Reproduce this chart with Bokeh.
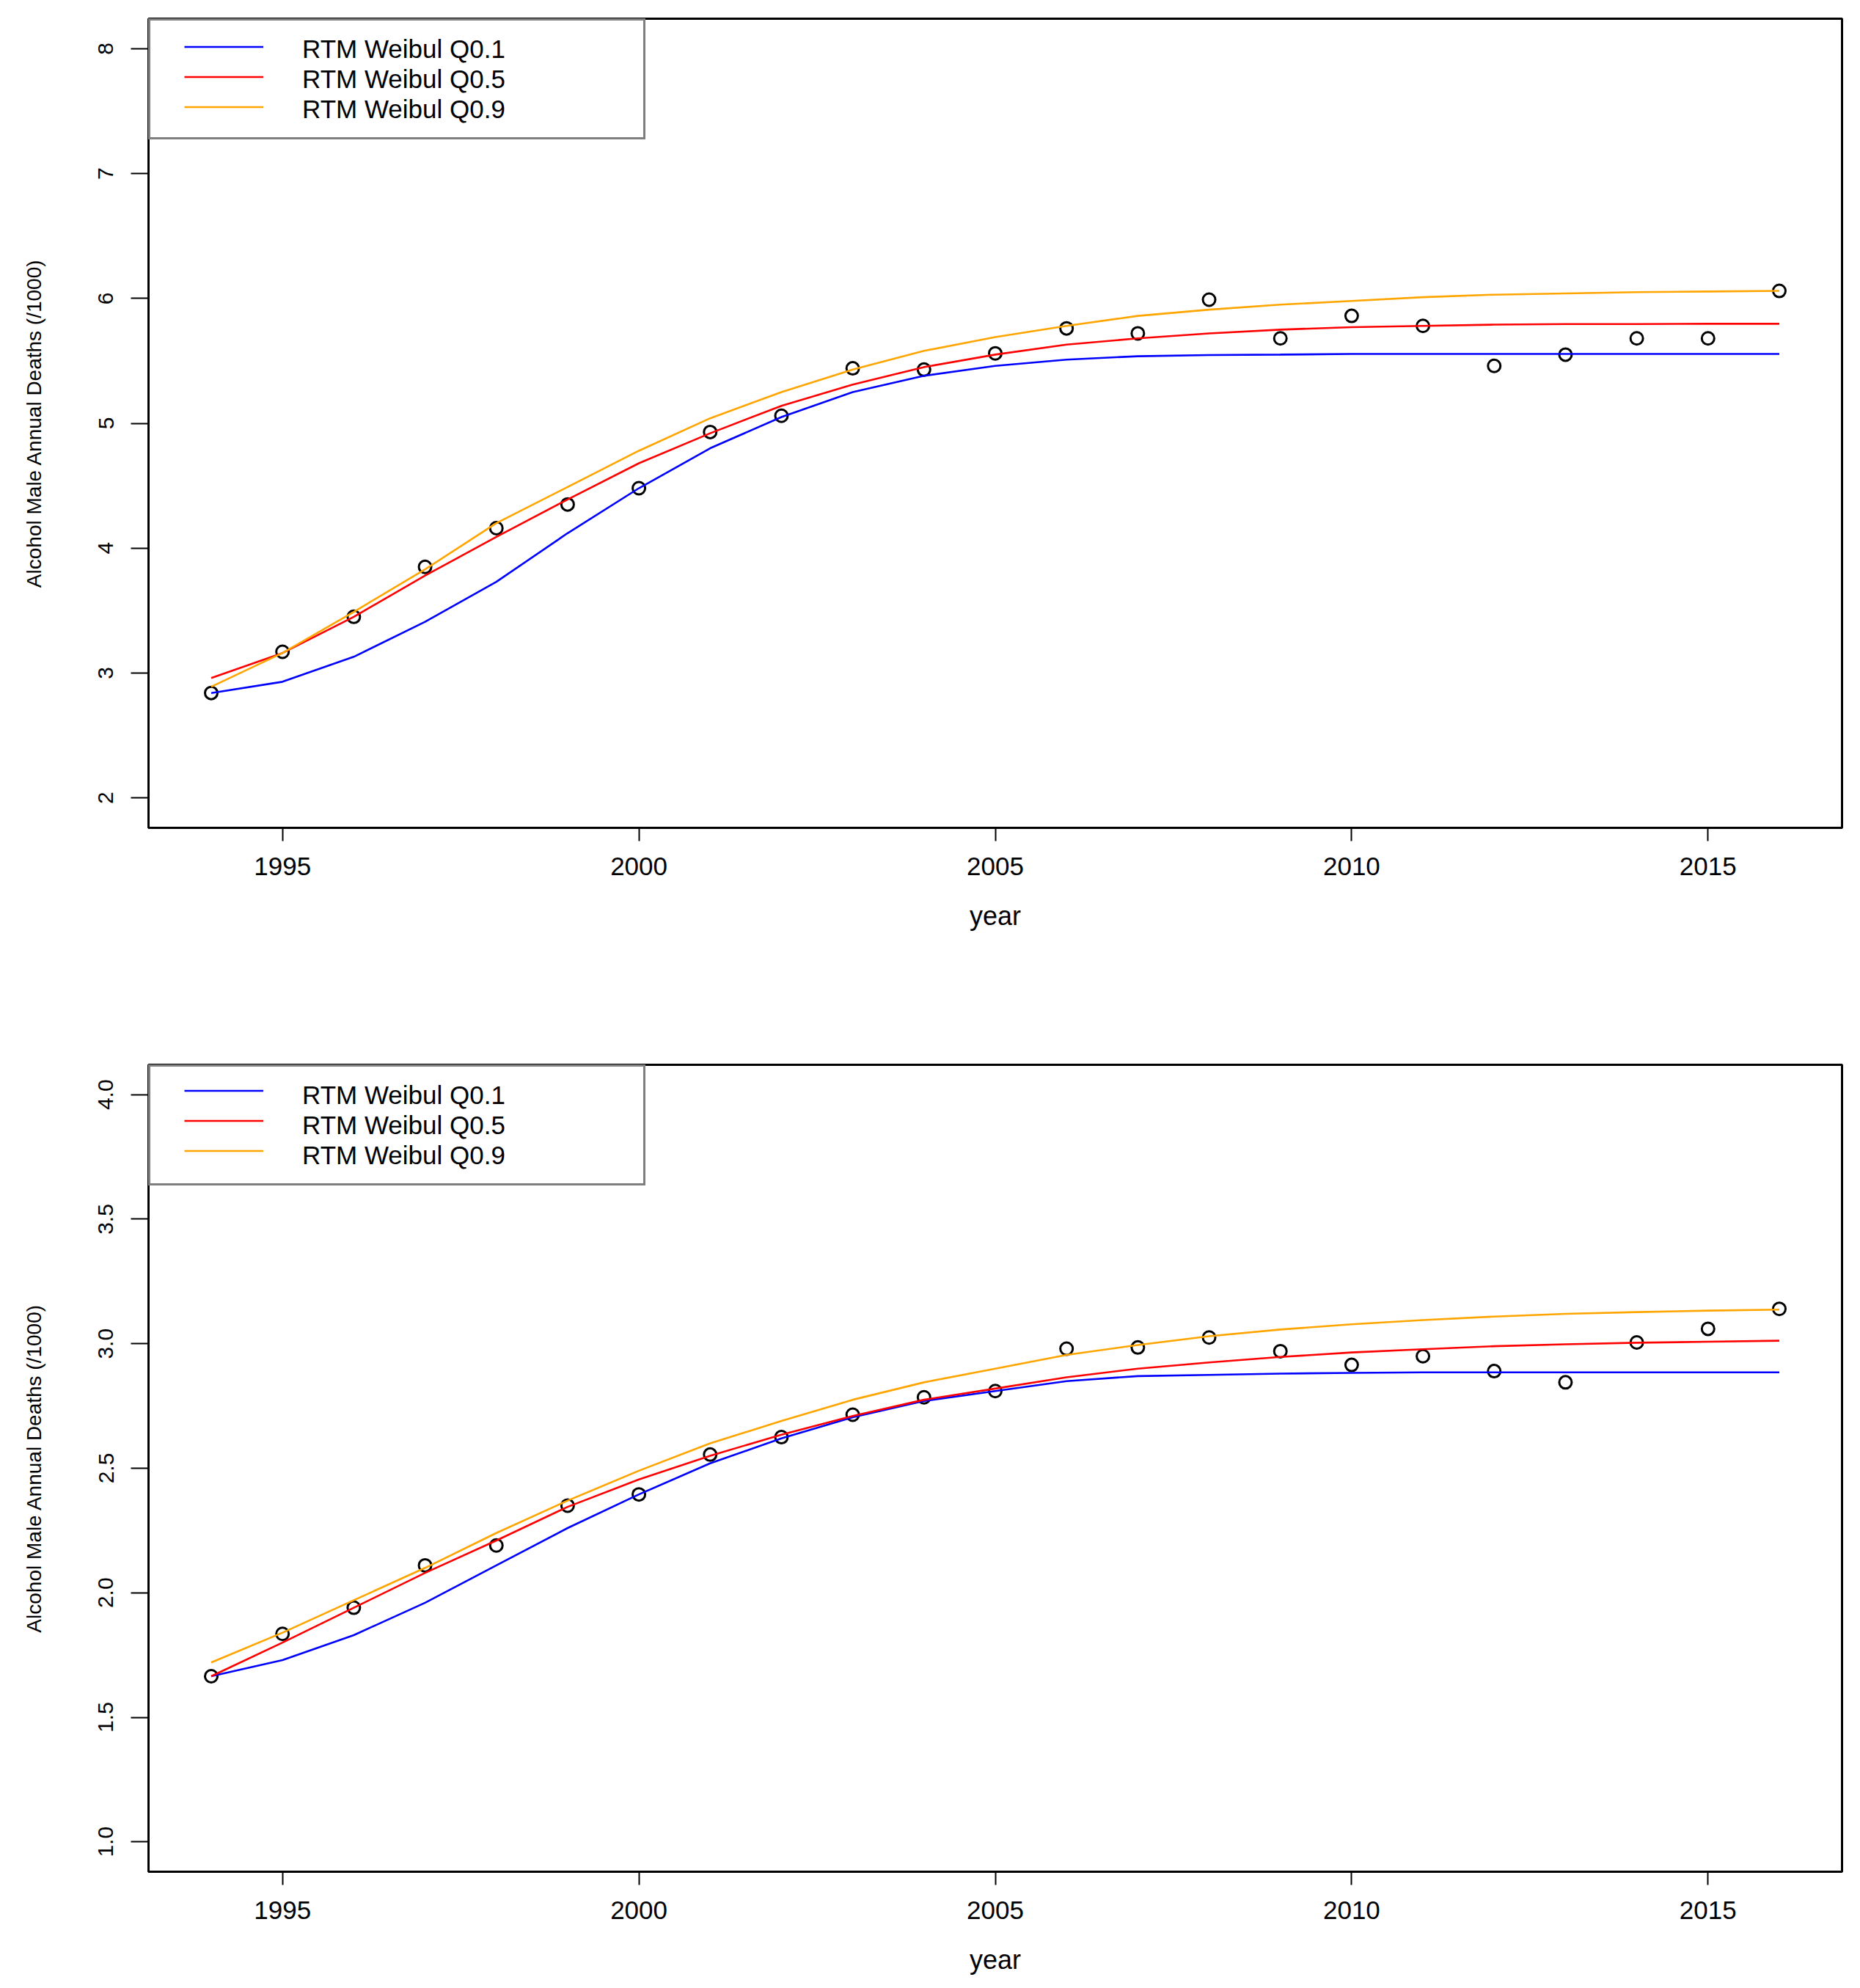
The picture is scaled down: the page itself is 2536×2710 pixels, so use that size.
from bokeh.plotting import figure
from bokeh.models import Range1d, FixedTicker, Legend, LegendItem, NumeralTickFormatter
from bokeh.layouts import column
from bokeh.embed import file_html
from bokeh.resources import INLINE

years = list(range(1994, 2017))
x_ticks = [1995, 2000, 2005, 2010, 2015]

labels = ["RTM Weibul Q0.1", "RTM Weibul Q0.5", "RTM Weibul Q0.9"]
colors = ["#0000FF", "#FF0000", "#FFA500"]

# top panel
top_obs = [2.84, 3.17, 3.45, 3.85, 4.16, 4.35, 4.48, 4.93, 5.06, 5.44, 5.43, 5.56,
           5.76, 5.72, 5.99, 5.68, 5.86, 5.78, 5.46, 5.55, 5.68, 5.68, 6.06]
top_q01 = [2.84, 2.93, 3.13, 3.41, 3.73, 4.12, 4.48, 4.80, 5.05, 5.25, 5.38, 5.46,
           5.51, 5.537, 5.546, 5.55, 5.555, 5.555, 5.555, 5.555, 5.555, 5.555, 5.555]
top_q05 = [2.96, 3.16, 3.45, 3.78, 4.09, 4.39, 4.68, 4.92, 5.14, 5.31, 5.45, 5.55,
           5.63, 5.68, 5.72, 5.75, 5.77, 5.78, 5.79, 5.795, 5.795, 5.797, 5.797]
top_q09 = [2.89, 3.16, 3.49, 3.83, 4.20, 4.49, 4.78, 5.04, 5.25, 5.43, 5.58, 5.69,
           5.78, 5.86, 5.91, 5.95, 5.98, 6.01, 6.03, 6.04, 6.05, 6.055, 6.06]
top_yticks = [2, 3, 4, 5, 6, 7, 8]
top_ylim = (2, 8)

# bottom panel
bot_obs = [1.665, 1.835, 1.94, 2.11, 2.19, 2.35, 2.395, 2.555, 2.625, 2.715, 2.785, 2.81,
           2.98, 2.985, 3.025, 2.97, 2.915, 2.95, 2.89, 2.845, 3.005, 3.06, 3.14]
bot_q01 = [1.665, 1.73, 1.83, 1.96, 2.11, 2.26, 2.395, 2.52, 2.62, 2.705, 2.77, 2.81,
           2.85, 2.87, 2.875, 2.88, 2.883, 2.885, 2.885, 2.885, 2.885, 2.885, 2.885]
bot_q05 = [1.665, 1.80, 1.94, 2.08, 2.21, 2.345, 2.455, 2.55, 2.635, 2.71, 2.775, 2.82,
           2.865, 2.90, 2.925, 2.947, 2.965, 2.978, 2.99, 2.998, 3.004, 3.008, 3.012]
bot_q09 = [1.72, 1.84, 1.97, 2.10, 2.24, 2.37, 2.49, 2.60, 2.69, 2.775, 2.845, 2.90,
           2.955, 2.995, 3.03, 3.057, 3.078, 3.095, 3.109, 3.12, 3.127, 3.133, 3.137]
bot_yticks = [1.0, 1.5, 2.0, 2.5, 3.0, 3.5, 4.0]
bot_ylim = (1, 4)

FONT = "Liberation Sans"
FRAME_W = 2309
FRAME_H = 1103
LEFT = 202
TOP = 25
ROW = 41


def r_range(lo, hi):
    d = (hi - lo) * 0.04
    return Range1d(lo - d, hi + d)


def make_panel(obs, q01, q05, q09, yticks, ylim, height, fmt=None):
    p = figure(width=2520, height=height,
               x_range=r_range(min(years), max(years)), y_range=r_range(*ylim),
               output_backend="svg", toolbar_location=None,
               min_border_left=LEFT, min_border_right=2520 - LEFT - FRAME_W,
               min_border_top=TOP, min_border_bottom=height - TOP - FRAME_H)
    p.grid.visible = False
    p.outline_line_color = "black"
    p.outline_line_width = 3
    p.background_fill_color = "white"
    p.border_fill_color = "white"

    # axes
    p.xaxis.ticker = FixedTicker(ticks=x_ticks)
    p.yaxis.ticker = FixedTicker(ticks=yticks)
    if fmt is not None:
        p.yaxis.formatter = NumeralTickFormatter(format=fmt)
    for ax in (p.xaxis[0], p.yaxis[0]):
        ax.axis_line_color = None
        ax.major_tick_in = 0
        ax.minor_tick_line_color = None
        ax.major_tick_line_color = "black"
        ax.major_tick_line_width = 2
        ax.major_label_text_font = FONT
        ax.major_label_text_color = "black"
        ax.axis_label_text_font = FONT
        ax.axis_label_text_font_style = "normal"
        ax.axis_label_text_color = "black"
    p.xaxis.major_tick_out = 18
    p.yaxis.major_tick_out = 24
    p.xaxis.major_label_text_font_size = "35px"
    p.yaxis.major_label_text_font_size = "30px"
    p.yaxis.major_label_orientation = "vertical"
    p.xaxis.major_label_standoff = 22
    p.yaxis.major_label_standoff = 24
    p.xaxis.axis_label = "year"
    p.yaxis.axis_label = "Alcohol Male Annual Deaths (/1000)"
    p.xaxis.axis_label_text_font_size = "36px"
    p.yaxis.axis_label_text_font_size = "28px"
    p.xaxis.axis_label_standoff = 32
    p.yaxis.axis_label_standoff = 70

    # data
    p.scatter(years, obs, marker="circle", size=17, fill_alpha=0,
              line_color="black", line_width=3)
    rs = []
    for ys, c in zip([q01, q05, q09], colors):
        rs.append(p.line(years, ys, line_color=c, line_width=2.6))

    # legend: box with labels (glyph slot left blank)
    blanks = [p.line(x=[], y=[], line_alpha=0) for _ in labels]
    box = Legend(items=[LegendItem(label=l, renderers=[b]) for l, b in zip(labels, blanks)],
                 location="top_left", margin=0, padding=18, spacing=0,
                 glyph_width=139, glyph_height=ROW, label_height=ROW, label_width=447,
                 label_standoff=50, label_text_font=FONT, label_text_font_size="35px",
                 label_text_color="black", label_text_baseline="middle",
                 border_line_color="black", border_line_width=3,
                 background_fill_color="white", background_fill_alpha=1)
    p.add_layout(box)
    # legend: line samples
    lines = Legend(items=[LegendItem(label=" ", renderers=[r]) for r in rs],
                   location=(31, FRAME_H - 159), margin=0, padding=18, spacing=0,
                   glyph_width=108, glyph_height=ROW, label_height=ROW, label_width=0,
                   label_standoff=0, label_text_font=FONT, label_text_font_size="35px",
                   label_text_baseline="middle",
                   border_line_alpha=0, background_fill_alpha=0)
    p.add_layout(lines)
    return p


p1 = make_panel(top_obs, top_q01, top_q05, top_q09, top_yticks, top_ylim, 1426)
p2 = make_panel(bot_obs, bot_q01, bot_q05, bot_q09, bot_yticks, bot_ylim, 1268, fmt="0.0")

layout = column(p1, p2, spacing=0)
open("out.html", "w").write(file_html(layout, INLINE))
